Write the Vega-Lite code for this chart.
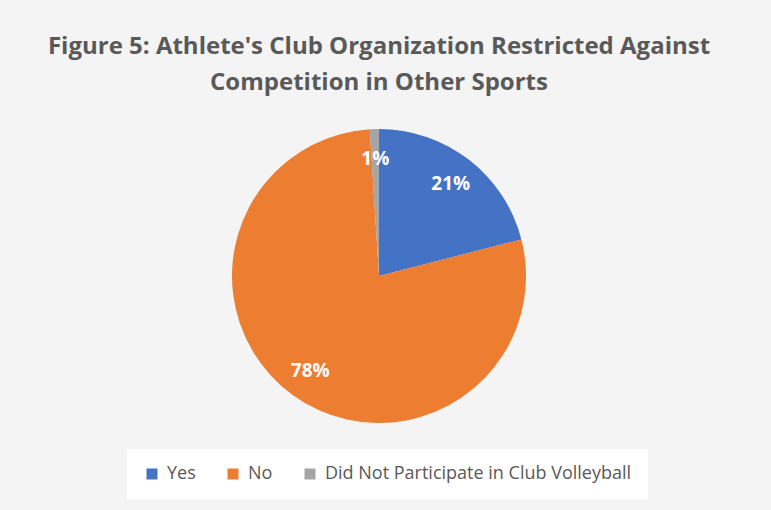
{
  "$schema": "https://vega.github.io/schema/vega-lite/v6.json",
  "autosize": "none",
  "width": 758,
  "height": 468,
  "padding": {"left": 0, "right": 13, "top": 42, "bottom": 0},
  "background": "#f4f4f4",
  "title": {
    "text": ["Figure 5: Athlete's Club Organization Restricted Against", "Competition in Other Sports"],
    "anchor": "middle",
    "frame": "group",
    "offset": -53,
    "font": "Open Sans",
    "fontSize": 24,
    "fontWeight": "bold",
    "color": "#595959",
    "lineHeight": 36
  },
  "data": {
    "values": [
      {"answer": "Yes", "pct": 21, "order": 1, "label": "21%"},
      {"answer": "No", "pct": 78, "order": 2, "label": "78%"},
      {"answer": "Did Not Participate in Club Volleyball", "pct": 1, "order": 3, "label": "1%"}
    ]
  },
  "encoding": {
    "theta": {"field": "pct", "type": "quantitative", "stack": true},
    "order": {"field": "order", "type": "quantitative"},
    "color": {
      "field": "answer",
      "type": "nominal",
      "sort": ["Yes", "No", "Did Not Participate in Club Volleyball"],
      "scale": {
        "domain": ["Yes", "No", "Did Not Participate in Club Volleyball"],
        "range": ["#4472C4", "#ED7D31", "#A5A5A5"]
      },
      "legend": {
        "title": null,
        "orient": "none",
        "direction": "horizontal",
        "legendX": 127,
        "legendY": 407,
        "fillColor": "#ffffff",
        "padding": 16,
        "symbolType": "square",
        "symbolSize": 121,
        "symbolStrokeWidth": 0,
        "symbolOpacity": 1,
        "labelFont": "Open Sans",
        "labelFontSize": 18,
        "labelColor": "#595959",
        "labelLimit": 0,
        "columnPadding": 28,
        "labelOffset": 6
      }
    }
  },
  "layer": [
    {
      "mark": {"type": "arc", "outerRadius": 147}
    },
    {
      "mark": {"type": "text", "radius": 117, "font": "Open Sans", "fontSize": 19, "fontWeight": "bold", "fill": "#ffffff"},
      "encoding": {
        "text": {"field": "label", "type": "nominal"},
        "color": {"value": "#ffffff"}
      }
    }
  ],
  "config": {"view": {"stroke": null}}
}
